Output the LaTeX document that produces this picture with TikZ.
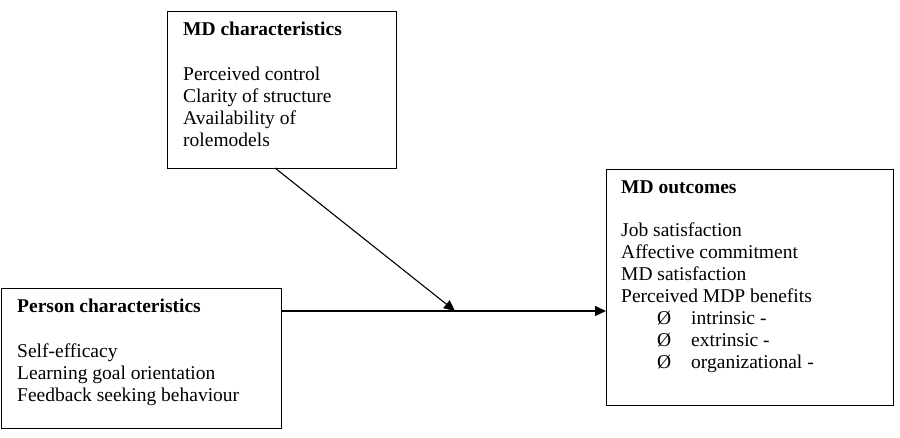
\documentclass[tikz,border=0pt]{standalone}
\usepackage{fontspec}
\setmainfont{Liberation Serif}
\usetikzlibrary{arrows.meta}
\begin{document}
\begin{tikzpicture}[x=1pt,y=-1pt,
  box/.style={draw,line width=1.1pt,inner sep=0pt,anchor=north west},
  txt/.style={anchor=base west,inner sep=0pt,font=\fontsize{19.5}{22}\selectfont},
  head/.style={txt,font=\fontsize{19.5}{22}\selectfont\bfseries},
  conn/.style={line width=1.1pt,-{Triangle[length=11pt,width=10pt]}}]
\useasboundingbox (0,0) rectangle (900,438);
% boxes
\node[box,minimum width=229pt,minimum height=157pt] (mdc) at (167,11) {};
\node[box,minimum width=280pt,minimum height=140pt] (pc) at (1,288) {};
\node[box,minimum width=287pt,minimum height=236pt] (mdo) at (606,169) {};
% MD characteristics
\node[head] (h1) at (183,36) {MD characteristics};
\node[txt] (a1) at (183,81) {Perceived control};
\node[txt] (a2) at (183,103) {Clarity of structure};
\node[txt] (a3) at (183,125) {Availability of};
\node[txt] (a4) at (183,147) {rolemodels};
% Person characteristics
\node[head] (h2) at (17,313) {Person characteristics};
\node[txt] (b1) at (17,358) {Self-efficacy};
\node[txt] (b2) at (17,380) {Learning goal orientation};
\node[txt] (b3) at (17,402) {Feedback seeking behaviour};
% MD outcomes
\node[head] (h3) at (621,194) {MD outcomes};
\node[txt] (c1) at (621,237) {Job satisfaction};
\node[txt] (c2) at (621,259) {Affective commitment};
\node[txt] (c3) at (621,281) {MD satisfaction};
\node[txt] (c4) at (621,303) {Perceived MDP benefits};
\node[txt] (d1) at (657,325) {Ø};
\node[txt] (e1) at (691,325) {intrinsic -};
\node[txt] (d2) at (657,347) {Ø};
\node[txt] (e2) at (691,347) {extrinsic -};
\node[txt] (d3) at (657,369) {Ø};
\node[txt] (e3) at (691,369) {organizational -};
% connectors
\coordinate (m) at (455,311);
\coordinate (s) at (275,168);
\draw[conn] (pc.east |- m) -- (mdo.west |- m);
\draw[conn] (s) -- (m);
\end{tikzpicture}
\end{document}
